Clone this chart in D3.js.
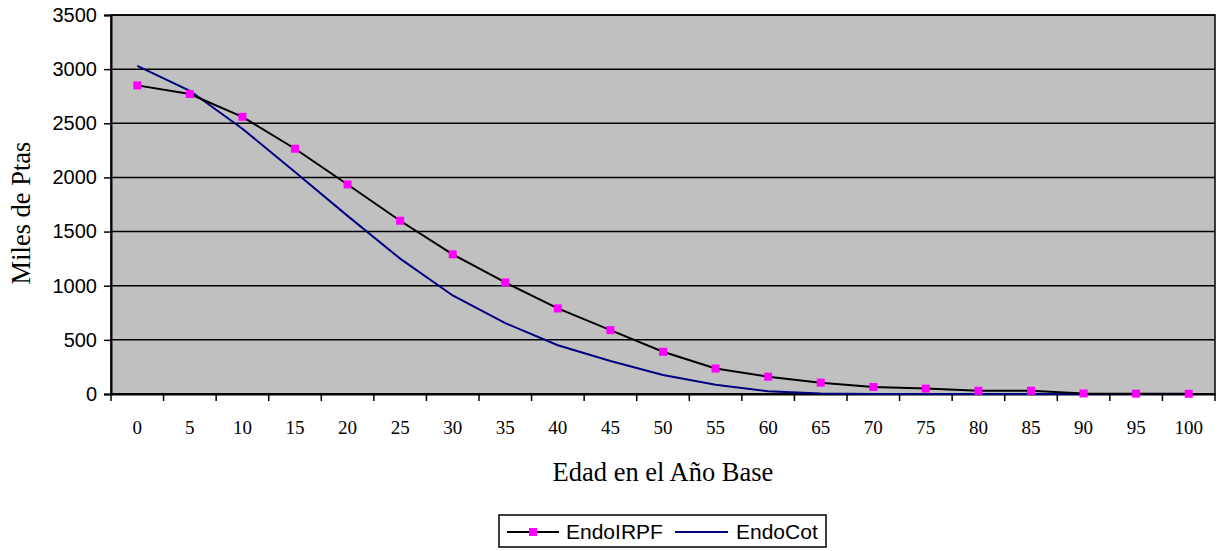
<!DOCTYPE html>
<html><head><meta charset="utf-8">
<script src="https://cdn.jsdelivr.net/npm/d3@7"></script>
<style>body{margin:0;background:#fff}</style>
</head><body>
<svg id="c" width="1227" height="551"></svg>
<script>
const categories = ["0","5","10","15","20","25","30","35","40","45","50","55","60","65","70","75","80","85","90","95","100"];
const endoIRPF = [2850,2770,2560,2265,1935,1600,1290,1030,790,590,390,235,160,105,65,50,30,30,5,3,2];
const endoCot  = [3030,2800,2450,2050,1645,1250,910,655,450,305,175,85,25,5,0,0,0,0,0,0,0];
const yTicks = [0,500,1000,1500,2000,2500,3000,3500];
const seriesNames = ["EndoIRPF","EndoCot"];

const svg = d3.select("#c");
const L=111, R=1215, T=15, B=394;
const x = d3.scaleBand().domain(categories).range([L,R]).padding(0);
const y = d3.scaleLinear().domain([0,3500]).range([B,T]);
const cx = c => x(c)+x.bandwidth()/2;

svg.append("rect").attr("x",L).attr("y",T).attr("width",R-L).attr("height",B-T).attr("fill","#c0c0c0");
// gridlines
svg.append("g").selectAll("line").data(yTicks).join("line")
  .attr("x1",L).attr("x2",R).attr("y1",d=>y(d)).attr("y2",d=>y(d))
  .attr("stroke","#000").attr("stroke-width",1.5);
svg.append("rect").attr("x",L).attr("y",T).attr("width",R-L).attr("height",B-T)
  .attr("fill","none").attr("stroke","#000").attr("stroke-width",1.5);

// y axis
const ya = svg.append("g").attr("transform",`translate(${L},0)`)
  .call(d3.axisLeft(y).tickValues(yTicks).tickSize(7).tickPadding(7).tickFormat(d3.format("d")));
ya.select(".domain").attr("stroke","#000").attr("stroke-width",2);
ya.selectAll(".tick line").attr("stroke","#000").attr("stroke-width",1.5);
ya.selectAll("text").attr("font-family","Liberation Sans, Arial, sans-serif").attr("font-size",20).attr("fill","#000");

// x axis
const xa = svg.append("g").attr("transform",`translate(0,${B})`)
  .call(d3.axisBottom(x).tickSize(0).tickPadding(27));
xa.select(".domain").attr("stroke","#000").attr("stroke-width",2);
xa.selectAll("text").attr("font-family","Liberation Serif, Times New Roman, serif").attr("font-size",19).attr("fill","#000");
const bounds = categories.map(c=>x(c)).concat([x(categories[categories.length-1])+x.bandwidth()]);
svg.append("g").selectAll("line").data(bounds).join("line")
  .attr("x1",d=>d).attr("x2",d=>d).attr("y1",B).attr("y2",B+7)
  .attr("stroke","#000").attr("stroke-width",1.5);

// titles
svg.append("text").attr("x",663).attr("y",481).attr("text-anchor","middle")
  .attr("font-family","Liberation Serif, Times New Roman, serif").attr("font-size",26.5).text("Edad en el Año Base");
svg.append("text").attr("transform",`translate(30,213) rotate(-90)`).attr("text-anchor","middle")
  .attr("font-family","Liberation Serif, Times New Roman, serif").attr("font-size",26.5).text("Miles de Ptas");

// lines
const line = d3.line().x((d,i)=>cx(categories[i])).y(d=>y(d));
svg.append("path").datum(endoCot).attr("d",line).attr("fill","none").attr("stroke","#000080").attr("stroke-width",2);
svg.append("path").datum(endoIRPF).attr("d",line).attr("fill","none").attr("stroke","#000").attr("stroke-width",2);
svg.append("g").selectAll("rect").data(endoIRPF).join("rect")
  .attr("x",(d,i)=>cx(categories[i])-4).attr("y",d=>y(d)-4).attr("width",8).attr("height",8)
  .attr("fill","#ff00ff");

// legend
const lg = svg.append("g");
lg.append("rect").attr("x",499).attr("y",515).attr("width",327).attr("height",32).attr("fill","#fff").attr("stroke","#000").attr("stroke-width",1.5);
lg.append("line").attr("x1",507).attr("x2",559).attr("y1",532).attr("y2",532).attr("stroke","#000").attr("stroke-width",2);
lg.append("rect").attr("x",529).attr("y",528).attr("width",8).attr("height",8).attr("fill","#ff00ff");
lg.append("text").attr("x",566).attr("y",539).attr("font-family","Liberation Sans, Arial, sans-serif").attr("font-size",21).text(seriesNames[0]);
lg.append("line").attr("x1",675).attr("x2",728).attr("y1",532).attr("y2",532).attr("stroke","#000080").attr("stroke-width",2);
lg.append("text").attr("x",736).attr("y",539).attr("font-family","Liberation Sans, Arial, sans-serif").attr("font-size",21).text(seriesNames[1]);
</script>
</body></html>
